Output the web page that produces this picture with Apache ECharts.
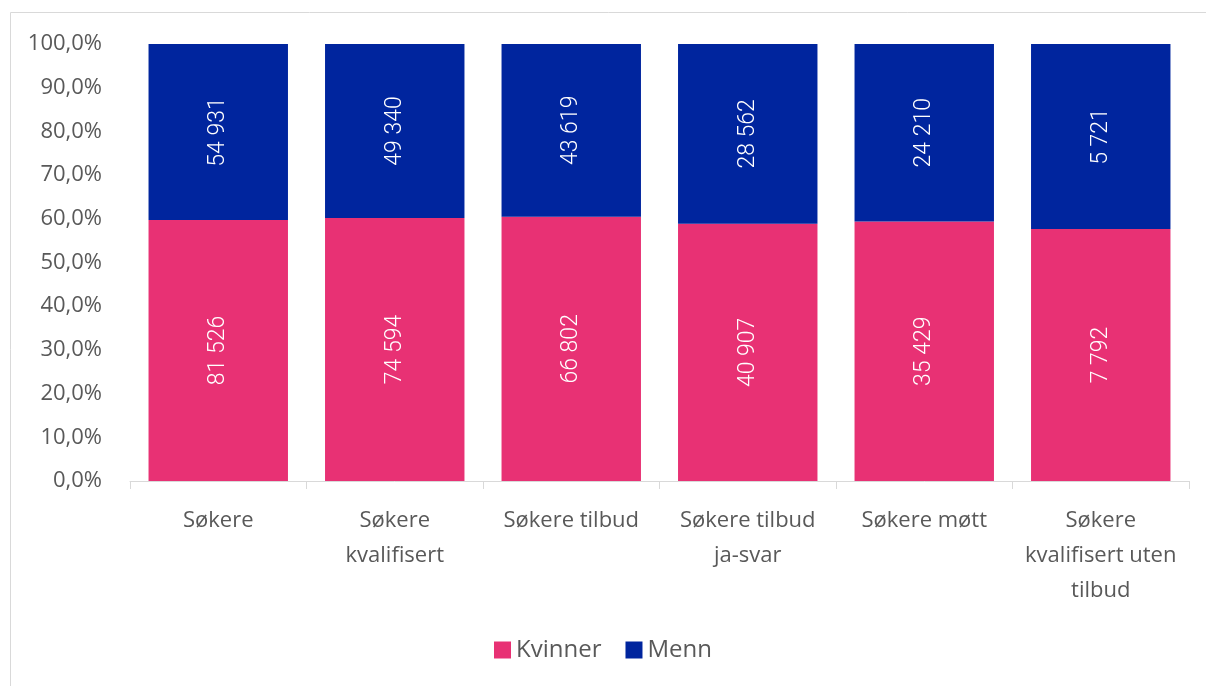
<!DOCTYPE html>
<html>
<head>
<meta charset="utf-8">
<script src="https://cdn.jsdelivr.net/npm/echarts@6/dist/echarts.min.js"></script>
<style>html,body{margin:0;padding:0;background:#fff}#c{width:1206px;height:686px}</style>
</head>
<body>
<div id="c"></div>
<script>
const categories = ['Søkere', 'Søkere\nkvalifisert', 'Søkere tilbud', 'Søkere tilbud\nja-svar', 'Søkere møtt', 'Søkere\nkvalifisert uten\ntilbud'];
const kvinner = [81526, 74594, 66802, 40907, 35429, 7792];
const menn = [54931, 49340, 43619, 28562, 24210, 5721];
const seriesNames = ['Kvinner', 'Menn'];

const totals = kvinner.map((v, i) => v + menn[i]);
const kPct = kvinner.map((v, i) => ({ value: v / totals[i] * 100, count: v }));
const mPct = menn.map((v, i) => ({ value: v / totals[i] * 100, count: v }));

function fmtCount(n) {
  return String(n).replace(/\B(?=(\d{3})+(?!\d))/g, ' ');
}
const textColor = '#595959';
const font = 'Open Sans';

const chart = echarts.init(document.getElementById('c'));
const label = {
  show: true,
  position: 'inside',
  rotate: 90,
  color: '#ffffff',
  fontFamily: 'Roboto',
  fontWeight: 300,
  fontSize: 23,
  formatter: p => fmtCount(p.data.count)
};
chart.setOption({
  animation: false,
  graphic: [{
    type: 'rect',
    shape: { x: 10.5, y: 12.5, width: 1300, height: 800 },
    style: { fill: 'none', stroke: '#d9d9d9', lineWidth: 1 },
    silent: true
  }],
  grid: { left: 130, right: 17, top: 44, bottom: 205 },
  legend: {
    bottom: 19,
    left: 'center',
    itemWidth: 17,
    itemHeight: 17,
    itemGap: 24,
    icon: 'rect',
    textStyle: { color: textColor, fontFamily: font, fontSize: 24 },
    data: seriesNames
  },
  xAxis: {
    type: 'category',
    data: categories,
    axisLine: { lineStyle: { color: '#d9d9d9', width: 1 } },
    axisTick: { show: true, length: 8, lineStyle: { color: '#d9d9d9' } },
    axisLabel: {
      color: textColor,
      fontFamily: font,
      fontSize: 22,
      lineHeight: 35,
      margin: 22,
      interval: 0
    }
  },
  yAxis: {
    type: 'value',
    min: 0,
    max: 100,
    interval: 10,
    splitLine: { show: false },
    axisLine: { show: false },
    axisTick: { show: false },
    axisLabel: {
      color: textColor,
      fontFamily: font,
      fontSize: 22,
      margin: 28,
      formatter: v => v.toFixed(1).replace('.', ',') + '%'
    }
  },
  series: [
    {
      name: seriesNames[0],
      type: 'bar',
      stack: 'total',
      barWidth: '79%',
      itemStyle: { color: '#E83174' },
      label: label,
      data: kPct
    },
    {
      name: seriesNames[1],
      type: 'bar',
      stack: 'total',
      barWidth: '79%',
      itemStyle: { color: '#00259E' },
      label: label,
      data: mPct
    }
  ]
});
</script>
</body>
</html>
